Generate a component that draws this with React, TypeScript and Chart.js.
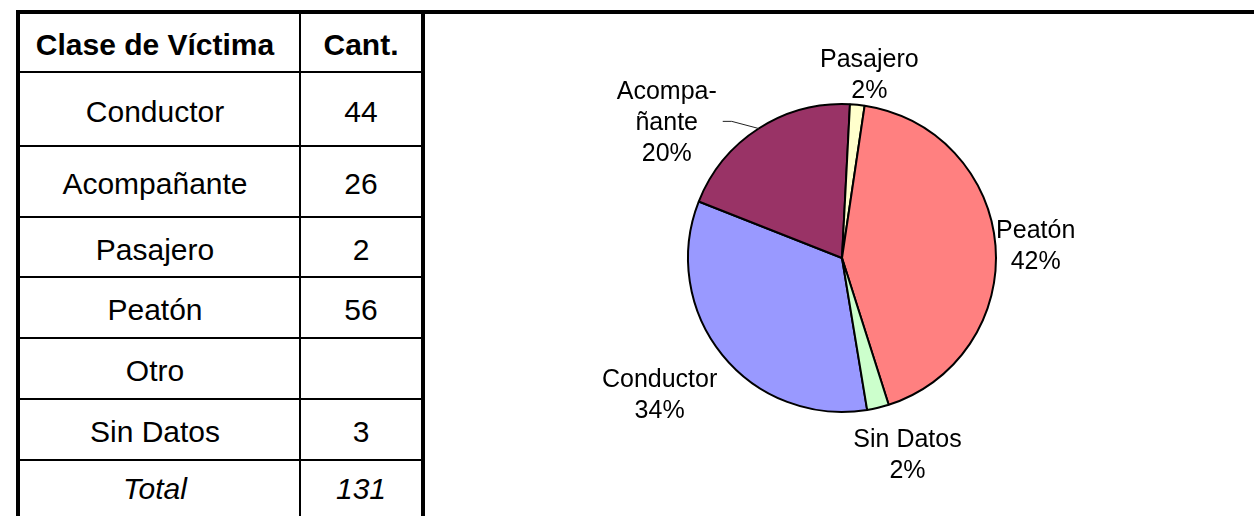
import React, { useEffect, useRef } from "react";
import { Chart, registerables } from "chart.js";

Chart.register(...registerables);

// ---- data ----
const headerLabels = ["Clase de Víctima", "Cant."];
const categories = ["Conductor", "Acompañante", "Pasajero", "Peatón", "Otro", "Sin Datos"];
const counts: (number | null)[] = [44, 26, 2, 56, null, 3];
const totalLabel = "Total";
const totalValue = 131;
const pieNameLines: string[][] = [["Conductor"], ["Acompa-", "ñante"], ["Pasajero"], ["Peatón"], ["Otro"], ["Sin Datos"]];
const piePctLabels = ["34%", "20%", "2%", "42%", "", "2%"];
const sliceColors = ["#9999FF", "#993366", "#FFFFCC", "#FF8080", "#0066CC", "#CCFFCC"];

// ---- styles ----
const FONT = '"Liberation Sans", Arial, Helvetica, sans-serif';
const rowHeights = [57, 72, 69, 58, 59, 59, 59, 55];

// label placement (polar, relative to each slice's mid angle)
const labelPlacement = [
  { dAngle: 2.3, k: 1.476, leader: false },
  { dAngle: -19.3, k: 1.443, leader: true },
  { dAngle: 2.7, k: 1.212, leader: false },
  { dAngle: 0.5, k: 1.261, leader: false },
  { dAngle: 0, k: 1.3, leader: false },
  { dAngle: -5.0, k: 1.339, leader: false },
];

const sliceLabelPlugin = {
  id: "sliceLabels",
  afterDatasetsDraw(chart: any) {
    const ctx = chart.ctx as CanvasRenderingContext2D;
    const meta = chart.getDatasetMeta(0);
    const fs = 25;
    const lh = 31;
    meta.data.forEach((arc: any, i: number) => {
      const v = chart.data.datasets[0].data[i];
      if (!v) return;
      const { x, y, startAngle, endAngle, outerRadius } = arc.getProps(
        ["x", "y", "startAngle", "endAngle", "outerRadius"],
        true
      );
      const mid = (startAngle + endAngle) / 2;
      const p = labelPlacement[i];
      const a = mid + (p.dAngle * Math.PI) / 180;
      const d = outerRadius * p.k;
      const cx = x + Math.cos(a) * d;
      const cy = y + Math.sin(a) * d;
      const lines = [...pieNameLines[i], piePctLabels[i]];
      ctx.save();
      ctx.font = `${fs}px ${FONT}`;
      ctx.fillStyle = "#000";
      ctx.textAlign = "center";
      ctx.textBaseline = "alphabetic";
      const n = lines.length;
      lines.forEach((t, j) => {
        const lineCenter = cy + (j - (n - 1) / 2) * lh;
        ctx.fillText(t, cx, lineCenter + fs * 0.36);
      });
      if (p.leader) {
        const ex = x + Math.cos(mid) * outerRadius;
        const ey = y + Math.sin(mid) * outerRadius;
        ctx.strokeStyle = "#222";
        ctx.lineWidth = 1;
        ctx.beginPath();
        ctx.moveTo(cx + 56, cy);
        ctx.lineTo(cx + 65, cy);
        ctx.lineTo(ex, ey);
        ctx.stroke();
      }
      ctx.restore();
    });
  },
};

function PieChart() {
  const ref = useRef<HTMLCanvasElement | null>(null);
  useEffect(() => {
    if (!ref.current) return;
    const chart = new Chart(ref.current, {
      type: "pie",
      data: {
        labels: categories,
        datasets: [
          {
            data: counts.map((c) => (c == null ? 0 : c)),
            backgroundColor: sliceColors,
            borderColor: "#000",
            borderWidth: 2,
            radius: 154,
          },
        ],
      },
      options: {
        animation: false,
        responsive: false,
        maintainAspectRatio: false,
        rotation: 170.6,
        layout: { padding: 0 },
        plugins: {
          legend: { display: false },
          tooltip: { enabled: false },
        },
      },
      plugins: [sliceLabelPlugin],
    });
    return () => chart.destroy();
  }, []);
  return (
    <canvas
      ref={ref}
      width={540}
      height={500}
      style={{ position: "absolute", left: 841.5 - 270, top: 257.5 - 250, width: 540, height: 500 }}
    />
  );
}

function Table() {
  const rows = [
    { name: headerLabels[0], val: headerLabels[1], kind: "head" },
    ...categories.map((c, i) => ({ name: c, val: counts[i] == null ? "" : String(counts[i]), kind: "body" })),
    { name: totalLabel, val: String(totalValue), kind: "total" },
  ];
  let top = 14;
  return (
    <>
      {rows.map((r, i) => {
        const h = rowHeights[i];
        const cellStyle: React.CSSProperties = {
          display: "flex",
          alignItems: "center",
          justifyContent: "center",
          whiteSpace: "nowrap",
          boxSizing: "border-box",
          paddingTop: r.kind === "total" ? 0 : 5,
          height: "100%",
        };
        const el = (
          <div
            key={i}
            style={{
              position: "absolute",
              left: 20,
              top,
              width: 401,
              height: h,
              borderBottom: "2px solid #000",
              display: "flex",
              fontFamily: FONT,
              fontSize: 30,
              fontWeight: r.kind === "head" ? "bold" : "normal",
              fontStyle: r.kind === "total" ? "italic" : "normal",
              color: "#000",
            }}
          >
            <div style={{ ...cellStyle, width: 279, paddingRight: 9 }}>{r.name}</div>
            <div style={{ width: 2, background: "#000" }} />
            <div style={{ ...cellStyle, width: 120 }}>{r.val}</div>
          </div>
        );
        top += h + 2;
        return el;
      })}
      {/* outer borders */}
      <div style={{ position: "absolute", left: 16, top: 10, width: 1238, height: 4, background: "#000" }} />
      <div style={{ position: "absolute", left: 16, top: 10, width: 4, height: 520, background: "#000" }} />
      <div style={{ position: "absolute", left: 421, top: 10, width: 4, height: 520, background: "#000" }} />
    </>
  );
}

export default function App() {
  return (
    <div
      style={{
        position: "fixed",
        left: 0,
        top: 0,
        width: 1254,
        height: 516,
        overflow: "hidden",
        background: "#fff",
      }}
    >
      <Table />
      <PieChart />
    </div>
  );
}
